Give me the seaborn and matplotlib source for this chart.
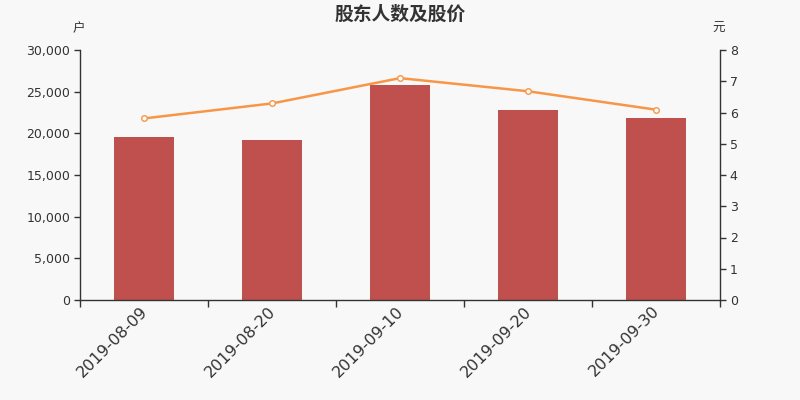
import matplotlib
matplotlib.use("Agg")
import matplotlib.pyplot as plt
import matplotlib.transforms as mtransforms
import seaborn as sns
import numpy as np
import pandas as pd
from matplotlib.ticker import FuncFormatter, FixedLocator

dates = ["2019-08-09", "2019-08-20", "2019-09-10", "2019-09-20", "2019-09-30"]
holders = [19600, 19250, 25780, 22830, 21870]
prices = [5.81, 6.29, 7.10, 6.68, 6.09]

title = "股东人数及股价"
left_unit = "户"
right_unit = "元"

bg = "#f8f8f8"
bar_color = "#c0504d"
line_color = "#f79646"
text_color = "#333333"

sns.set_theme(style="white")
plt.rcParams["font.family"] = ["Noto Sans CJK SC", "DejaVu Sans"]

df = pd.DataFrame({"date": dates, "holders": holders, "price": prices})

fig = plt.figure(figsize=(8, 4), dpi=100, facecolor=bg)
ax = fig.add_axes([0.1, 0.25, 0.8, 0.625])
ax.set_facecolor(bg)

sns.barplot(data=df, x="date", y="holders", ax=ax, color=bar_color,
            width=60 / 128, saturation=1, edgecolor="none")

ax2 = ax.twinx()
sns.lineplot(x=np.arange(len(dates)), y=df["price"], ax=ax2, color=line_color,
             linewidth=1.8, marker="o", markersize=4, markerfacecolor="white",
             markeredgecolor=line_color, markeredgewidth=1)

ax.set_xlim(-0.5, len(dates) - 0.5)
ax2.set_xlim(-0.5, len(dates) - 0.5)
ax.set_ylim(0, 30000)
ax2.set_ylim(0, 8)
ax.set_yticks(np.arange(0, 30001, 5000))
ax2.set_yticks(np.arange(0, 9, 1))
ax.yaxis.set_major_formatter(FuncFormatter(lambda v, p: f"{int(v):,}"))

# x: label positions at bar centers (no marks), tick marks at boundaries
ax.set_xticks(np.arange(len(dates)))
ax.set_xticklabels(dates, rotation=45, ha="right", rotation_mode="anchor",
                   fontsize=11.5, color=text_color, family="DejaVu Sans")
ax.tick_params(axis="x", which="major", length=0, pad=4)
offset = mtransforms.ScaledTranslation(-4 / 100, 2 / 100, fig.dpi_scale_trans)
for lab in ax.get_xticklabels():
    lab.set_transform(lab.get_transform() + offset)
ax.xaxis.set_minor_locator(FixedLocator(np.arange(-0.5, len(dates), 1.0)))
ax.tick_params(axis="x", which="minor", length=5, width=1, color=text_color,
               direction="out", bottom=True)

ax.tick_params(axis="y", length=4, width=1, color=text_color, direction="out",
               labelsize=9, labelcolor=text_color, left=True, pad=3)
ax2.tick_params(axis="y", length=4, width=1, color=text_color, direction="out",
                labelsize=9, labelcolor=text_color, right=True, pad=3)
for t in ax.get_yticklabels() + ax2.get_yticklabels():
    t.set_family("DejaVu Sans")

ax.set_xlabel("")
ax.set_ylabel("")
ax2.set_xlabel("")
ax2.set_ylabel("")

for a in (ax, ax2):
    a.spines["top"].set_visible(False)
    for s in ("left", "right", "bottom"):
        a.spines[s].set_color(text_color)
        a.spines[s].set_linewidth(1)
    a.grid(False)
ax.spines["right"].set_visible(False)
ax2.spines["left"].set_visible(False)
ax2.spines["bottom"].set_visible(False)

fig.text(0.5, 0.965, title, ha="center", va="center", fontsize=13.5,
         fontweight="bold", color=text_color)
fig.text(0.098, 0.928, left_unit, ha="center", va="center", fontsize=9, color=text_color)
fig.text(0.898, 0.928, right_unit, ha="center", va="center", fontsize=9, color=text_color)

fig.savefig("out.png", dpi=100, facecolor=bg)
